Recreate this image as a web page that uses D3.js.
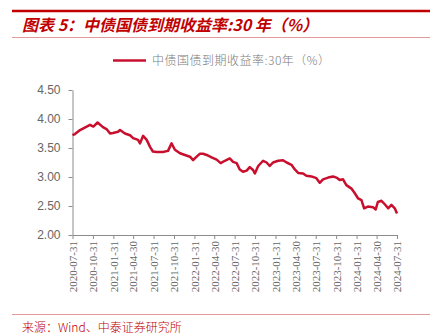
<!DOCTYPE html>
<html>
<head>
<meta charset="utf-8">
<script src="https://cdn.jsdelivr.net/npm/d3@7"></script>
<style>
  html, body { margin: 0; padding: 0; background: #fff; }
  svg { display: block; }
</style>
</head>
<body>
<svg id="chart" width="439" height="336"></svg>
<script>
// 30-year China government bond yield (%), sampled dates and values
const dates = [
  "2020-07-31","2020-08-11","2020-09-03","2020-10-03","2020-10-18","2020-11-02","2020-11-21",
  "2020-12-15","2021-01-02","2021-01-16","2021-01-29","2021-02-21","2021-03-02","2021-03-24",
  "2021-04-16","2021-04-30","2021-05-22","2021-05-31","2021-06-14","2021-06-30","2021-07-15",
  "2021-07-28","2021-08-14","2021-09-11","2021-10-04","2021-10-20","2021-11-04","2021-11-27",
  "2021-12-19","2022-01-11","2022-01-25","2022-02-10","2022-02-24","2022-03-11","2022-03-27",
  "2022-04-18","2022-05-11","2022-05-29","2022-06-17","2022-07-09","2022-07-24","2022-08-09",
  "2022-08-23","2022-09-07","2022-09-23","2022-10-07","2022-10-22","2022-10-30","2022-11-14",
  "2022-12-06","2022-12-22","2023-01-05","2023-01-20","2023-02-12","2023-03-06","2023-03-22",
  "2023-04-13","2023-04-28","2023-05-13","2023-06-04","2023-06-19","2023-07-12","2023-08-03",
  "2023-08-18","2023-09-02","2023-09-25","2023-10-17","2023-11-01","2023-11-16","2023-12-01",
  "2023-12-16","2024-01-08","2024-01-23","2024-02-07","2024-02-22","2024-03-05","2024-03-22",
  "2024-04-14","2024-04-26","2024-05-06","2024-05-22","2024-06-06","2024-06-21","2024-07-06",
  "2024-07-21","2024-07-31"
];
const yields = [
  3.72,3.74,3.81,3.87,3.90,3.87,3.94,
  3.86,3.82,3.75,3.76,3.78,3.81,3.75,
  3.72,3.67,3.64,3.58,3.71,3.64,3.52,
  3.44,3.43,3.43,3.45,3.58,3.47,3.41,
  3.38,3.35,3.29,3.35,3.40,3.40,3.38,
  3.34,3.30,3.24,3.28,3.32,3.26,3.24,
  3.13,3.09,3.11,3.17,3.12,3.06,3.19,
  3.28,3.25,3.19,3.25,3.28,3.29,3.25,
  3.21,3.13,3.07,3.06,3.02,3.01,2.98,
  2.90,2.96,2.99,3.01,2.99,2.95,2.96,
  2.86,2.80,2.72,2.63,2.60,2.46,2.49,
  2.48,2.44,2.57,2.59,2.53,2.46,2.52,
  2.46,2.37
];
const xTickLabels = [
  "2020-07-31","2020-10-31","2021-01-31","2021-04-30","2021-07-31","2021-10-31",
  "2022-01-31","2022-04-30","2022-07-31","2022-10-31","2023-01-31","2023-04-30",
  "2023-07-31","2023-10-31","2024-01-31","2024-04-30","2024-07-31"
];
const yTicks = [2.00, 2.50, 3.00, 3.50, 4.00, 4.50];

const titleText = "图表 5：中债国债到期收益率:30 年（%）";
const seriesName = "中债国债到期收益率:30年（%）";
const sourceText = "来源：Wind、中泰证券研究所";

const RED = "#c00000";
const LINE = "#c8102e";
const GRAY = "#666666";
const CJK = "'Noto Sans CJK SC', 'Noto Sans', sans-serif";

const parse = d3.timeParse("%Y-%m-%d");
const data = dates.map((d, i) => ({ date: parse(d), value: yields[i] }));

const svg = d3.select("#chart");
svg.append("rect").attr("width", 439).attr("height", 336).attr("fill", "#fff");

// header rules and title
svg.append("line").attr("x1", 12).attr("x2", 430).attr("y1", 11).attr("y2", 11)
  .attr("stroke", RED).attr("stroke-width", 2.5);
svg.append("text").attr("x", 22).attr("y", 31)
  .attr("font-family", CJK).attr("font-size", 16).attr("font-weight", "bold")
  .attr("font-style", "italic").attr("fill", RED).text(titleText);
svg.append("line").attr("x1", 12).attr("x2", 430).attr("y1", 37.5).attr("y2", 37.5)
  .attr("stroke", "#e39a9a").attr("stroke-width", 1);

// legend
svg.append("line").attr("x1", 113).attr("x2", 146).attr("y1", 60.5).attr("y2", 60.5)
  .attr("stroke", LINE).attr("stroke-width", 2.5);
svg.append("text").attr("x", 152).attr("y", 65)
  .attr("font-family", CJK).attr("font-size", 12).attr("font-weight", 300)
  .attr("letter-spacing", 0.5).attr("fill", "#7a7a7a").text(seriesName);

// scales
const x = d3.scaleTime()
  .domain([parse(xTickLabels[0]), parse(xTickLabels[xTickLabels.length - 1])])
  .range([72.5, 397]);
const y = d3.scaleLinear().domain([2, 4.5]).range([235, 90]);

// y axis
const yAxis = svg.append("g").attr("transform", "translate(72.5,0)")
  .call(d3.axisLeft(y).tickValues(yTicks).tickFormat(d3.format(".2f"))
    .tickSize(4).tickSizeOuter(0).tickPadding(8));
yAxis.select(".domain").attr("stroke", "#8c8c8c");
yAxis.selectAll(".tick line").attr("stroke", "#8c8c8c");
yAxis.selectAll("text").attr("fill", GRAY).attr("font-size", 12)
  .attr("font-family", "'Liberation Sans', Arial, sans-serif");

// x axis
const xAxis = svg.append("g").attr("transform", "translate(0,235)")
  .call(d3.axisBottom(x).tickValues(xTickLabels.map(parse))
    .tickFormat(d3.timeFormat("%Y-%m-%d")).tickSize(4).tickSizeOuter(0));
xAxis.select(".domain").attr("stroke", "#8c8c8c");
xAxis.selectAll(".tick line").attr("stroke", "#8c8c8c");
xAxis.selectAll("text")
  .attr("fill", GRAY).attr("font-size", 11)
  .attr("font-family", "'Liberation Serif', 'Times New Roman', serif")
  .attr("text-anchor", "end").attr("dy", "0.35em")
  .attr("transform", "translate(0,6) rotate(-90)")
  .attr("x", 0).attr("y", 0);

// yield line
const line = d3.line().x(d => x(d.date)).y(d => y(d.value));
svg.append("path").datum(data).attr("d", line)
  .attr("fill", "none").attr("stroke", LINE).attr("stroke-width", 2.5)
  .attr("stroke-linejoin", "round");

// footer
svg.append("line").attr("x1", 12).attr("x2", 430).attr("y1", 314.5).attr("y2", 314.5)
  .attr("stroke", "#e39a9a").attr("stroke-width", 1);
svg.append("text").attr("x", 22).attr("y", 332)
  .attr("font-family", CJK).attr("font-size", 12).attr("font-weight", 300)
  .attr("fill", RED).text(sourceText);
</script>
</body>
</html>
